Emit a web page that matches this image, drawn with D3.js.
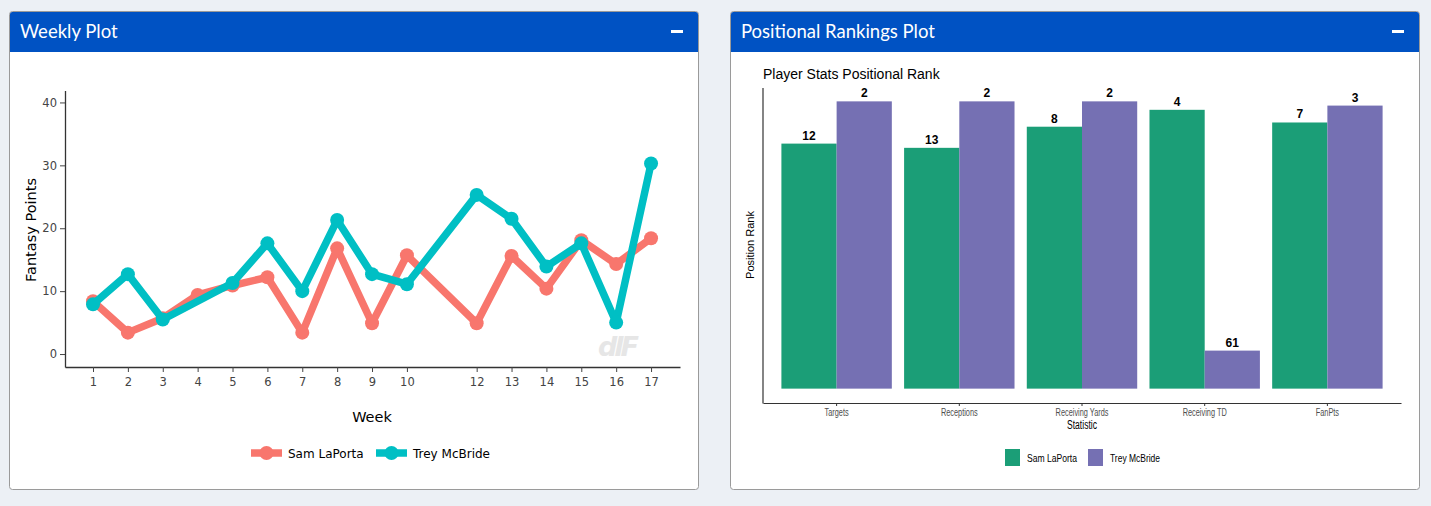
<!DOCTYPE html>
<html>
<head>
<meta charset="utf-8">
<script src="https://cdn.jsdelivr.net/npm/d3@7"></script>
<style>
  html, body { margin: 0; padding: 0; background: #ecf0f5; }
  svg { display: block; }
</style>
</head>
<body>
<svg id="chart" width="1431" height="506"></svg>
<script>
// ---------- DATA ----------
const weeks = [1, 2, 3, 4, 5, 6, 7, 8, 9, 10, 12, 13, 14, 15, 16, 17];
const laportaPts = [8.4, 3.4, 5.7, 9.4, 10.9, 12.2, 3.4, 16.8, 4.9, 15.7, 4.9, 15.6, 10.4, 18.1, 14.3, 18.4];
const mcbridePts = [7.9, 12.7, 5.5, null, 11.3, 17.6, 10.0, 21.3, 12.7, 11.1, 25.3, 21.5, 13.9, 17.6, 5.0, 30.3];
const yTicksLeft = [0, 10, 20, 30, 40];
const players = ["Sam LaPorta", "Trey McBride"];

const statistics = ["Targets", "Receptions", "Receiving Yards", "Receiving TD", "FanPts"];
const laportaRank = [12, 13, 8, 4, 7];
const mcbrideRank = [2, 2, 2, 61, 3];

// ---------- STYLE ----------
const lineColors = ["#F8766D", "#00BFC4"];
const barColors = ["#1B9E77", "#7570B3"];
const headerBlue = "#0052c3";

const svg = d3.select("#chart");

// ---------- PANELS ----------
const panels = [
  { x: 9, w: 689, title: "Weekly Plot" },
  { x: 730, w: 689, title: "Positional Rankings Plot" }
];
panels.forEach(p => {
  const g = svg.append("g");
  g.append("rect").attr("x", p.x + 0.5).attr("y", 11.5).attr("width", p.w).attr("height", 478)
    .attr("rx", 3).attr("fill", "#fff").attr("stroke", "#9a9a9a");
  g.append("path")
    .attr("d", `M${p.x + 1},52 V14.5 Q${p.x + 1},12 ${p.x + 3.5},12 H${p.x + p.w - 2.5} Q${p.x + p.w},12 ${p.x + p.w},14.5 V52 Z`)
    .attr("fill", headerBlue);
  g.append("text").attr("x", p.x + 11).attr("y", 37.5).text(p.title)
    .attr("fill", "#fff").attr("font-family", "Lato, 'Noto Sans', sans-serif").attr("font-size", 18.5);
  g.append("rect").attr("x", p.x + p.w - 27).attr("y", 30).attr("width", 12).attr("height", 3).attr("fill", "#fff");
});

// ---------- LEFT: WEEKLY PLOT ----------
const fontL = "'DejaVu Sans', Verdana, sans-serif";
const xL = d3.scaleLinear().domain([0.197, 17.83]).range([65, 680]);
const yL = d3.scaleLinear().domain([-2.06, 41.9]).range([367, 90.5]);

const gL = svg.append("g");
const xAxisL = d3.axisBottom(xL).tickValues(weeks).tickFormat(d3.format("d")).tickSize(5).tickSizeOuter(0).tickPadding(6);
const yAxisL = d3.axisLeft(yL).tickValues(yTicksLeft).tickSize(5).tickSizeOuter(0).tickPadding(3);

const gxL = gL.append("g").attr("transform", "translate(0,367)").call(xAxisL);
const gyL = gL.append("g").attr("transform", "translate(65,0)").call(yAxisL);
[gxL, gyL].forEach(a => {
  a.select(".domain").attr("stroke", "#333").attr("stroke-width", 1.3);
  a.selectAll(".tick line").attr("stroke", "#444");
  a.selectAll(".tick text").attr("fill", "#444").attr("font-family", fontL).attr("font-size", 11.5);
});

gL.append("text").attr("transform", "translate(36,230) rotate(-90)").attr("text-anchor", "middle")
  .attr("font-family", fontL).attr("font-size", 14.5).attr("fill", "#000").text("Fantasy Points");
gL.append("text").attr("x", 372).attr("y", 422).attr("text-anchor", "middle")
  .attr("font-family", fontL).attr("font-size", 14.5).attr("fill", "#000").text("Week");

// watermark
gL.append("text").attr("x", 617).attr("y", 356).attr("text-anchor", "middle")
  .attr("font-family", "'DejaVu Sans', sans-serif").attr("font-weight", 900).attr("font-style", "italic")
  .attr("font-size", 27).attr("letter-spacing", -3).attr("fill", "#e6e6e6").text("dlF");

const seriesL = [laportaPts, mcbridePts];
const lineGen = d3.line().x(d => xL(d.w)).y(d => yL(d.v));
seriesL.forEach((vals, i) => {
  const pts = weeks.map((w, j) => ({ w, v: vals[j] })).filter(d => d.v != null);
  const g = gL.append("g");
  g.append("path").datum(pts).attr("d", lineGen).attr("fill", "none")
    .attr("stroke", lineColors[i]).attr("stroke-width", 7.5).attr("stroke-linejoin", "round");
  g.selectAll("circle").data(pts).join("circle")
    .attr("cx", d => xL(d.w)).attr("cy", d => yL(d.v)).attr("r", 7).attr("fill", lineColors[i]);
});

// legend left
const legL = gL.append("g");
const legPos = [251, 376];
players.forEach((p, i) => {
  const x0 = legPos[i];
  legL.append("line").attr("x1", x0).attr("x2", x0 + 31).attr("y1", 453).attr("y2", 453)
    .attr("stroke", lineColors[i]).attr("stroke-width", 7.5);
  legL.append("circle").attr("cx", x0 + 15.5).attr("cy", 453).attr("r", 7).attr("fill", lineColors[i]);
  legL.append("text").attr("x", x0 + 37).attr("y", 457.5).attr("font-family", fontL).attr("font-size", 12)
    .attr("fill", "#000").text(p);
});

// ---------- RIGHT: POSITIONAL RANKINGS ----------
const fontR = "'Liberation Sans', Arial, Helvetica, sans-serif";
const gR = svg.append("g");
const xR = d3.scaleBand().domain(statistics).range([763, 1401]).paddingInner(0.1).paddingOuter(0.15);
const xSub = d3.scaleBand().domain(players).range([0, xR.bandwidth()]);
// ranks are drawn inverted: a better (smaller) rank gives a taller bar; baseline at rank 70
const yR = d3.scaleLinear().domain([73.4, -1.4]).range([403, 87]);
const baseRank = 70;

gR.append("text").attr("x", 763).attr("y", 79).attr("font-family", fontR).attr("font-size", 14)
  .attr("fill", "#000").text("Player Stats Positional Rank");

const rankSeries = [laportaRank, mcbrideRank];
statistics.forEach((s, j) => {
  players.forEach((p, i) => {
    const r = rankSeries[i][j];
    const x = xR(s) + xSub(p);
    gR.append("rect").attr("x", x).attr("y", yR(r)).attr("width", xSub.bandwidth())
      .attr("height", yR(baseRank) - yR(r)).attr("fill", barColors[i]);
    gR.append("text").attr("x", x + xSub.bandwidth() / 2).attr("y", yR(r) - 4).attr("text-anchor", "middle")
      .attr("font-family", fontR).attr("font-weight", "bold").attr("font-size", 12).attr("fill", "#000").text(r);
  });
});

// axes
gR.append("line").attr("x1", 763).attr("x2", 763).attr("y1", 88).attr("y2", 403.5).attr("stroke", "#333").attr("stroke-width", 1.2);
const gxR = gR.append("g").attr("transform", "translate(0,403)")
  .call(d3.axisBottom(xR).tickSize(3).tickPadding(3).tickSizeOuter(0));
gxR.select(".domain").attr("stroke", "#333").attr("stroke-width", 1.2);
gxR.selectAll(".tick line").attr("stroke", "#333");
gxR.selectAll(".tick text").attr("fill", "#4d4d4d").attr("font-family", fontR).attr("font-size", 10.5);
// horizontally condensed labels, as in the reference
gxR.selectAll(".tick text").each(function() {
  const w = this.getComputedTextLength();
  d3.select(this).attr("lengthAdjust", "spacingAndGlyphs").attr("textLength", w * 0.7);
});

gR.append("text").attr("transform", "translate(754,245) rotate(-90)").attr("text-anchor", "middle")
  .attr("font-family", fontR).attr("font-size", 11).attr("fill", "#000").text("Position Rank");
gR.append("text").attr("x", 1082).attr("y", 429).attr("text-anchor", "middle")
  .attr("font-family", fontR).attr("font-size", 12.5).attr("fill", "#000")
  .attr("lengthAdjust", "spacingAndGlyphs").attr("textLength", 30).text("Statistic");

// legend right
const legRx = [1005, 1088];
players.forEach((p, i) => {
  gR.append("rect").attr("x", legRx[i]).attr("y", 449).attr("width", 15).attr("height", 17).attr("fill", barColors[i]);
  gR.append("text").attr("x", legRx[i] + 22).attr("y", 461.5).attr("font-family", fontR).attr("font-size", 11)
    .attr("fill", "#000").attr("lengthAdjust", "spacingAndGlyphs").attr("textLength", 50).text(p);
});
</script>
</body>
</html>
